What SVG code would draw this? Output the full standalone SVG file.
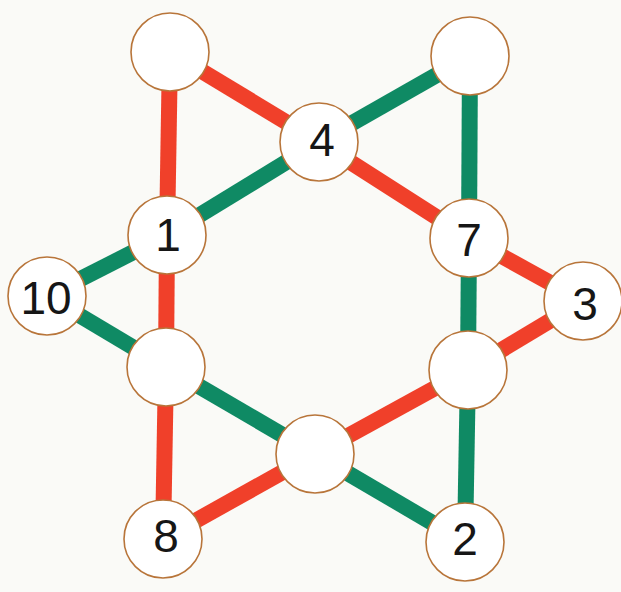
<svg xmlns="http://www.w3.org/2000/svg" width="621" height="592" viewBox="0 0 621 592">
<style>
.r{stroke:#F0402A;stroke-width:16;stroke-linecap:butt;fill:none}
.g{stroke:#0F8A64;stroke-width:16;stroke-linecap:butt;fill:none}
.n circle{fill:#FFFFFF;stroke:#B8753A;stroke-width:1.6}
.n text{font-family:"Liberation Sans",Arial,sans-serif;font-size:46px;fill:#161616;text-anchor:middle}
</style>
<rect x="0" y="0" width="621" height="592" fill="#FAFAF7"/>
<g id="connectors">
<line class="r" x1="170" y1="52" x2="319" y2="142"/>
<line class="r" x1="319" y1="142" x2="469" y2="238"/>
<line class="g" x1="470" y1="56" x2="319" y2="142"/>
<line class="g" x1="319" y1="142" x2="167" y2="235"/>
<line class="r" x1="170" y1="52" x2="167" y2="235"/>
<line class="r" x1="167" y1="235" x2="166" y2="367"/>
<line class="r" x1="166" y1="367" x2="163" y2="539"/>
<line class="g" x1="470" y1="56" x2="469" y2="238"/>
<line class="g" x1="469" y1="238" x2="468" y2="370"/>
<line class="g" x1="468" y1="370" x2="465" y2="542"/>
<line class="g" x1="167" y1="235" x2="47" y2="296"/>
<line class="g" x1="47" y1="296" x2="166" y2="367"/>
<line class="g" x1="166" y1="367" x2="315" y2="454"/>
<line class="g" x1="315" y1="454" x2="465" y2="542"/>
<line class="r" x1="469" y1="238" x2="583" y2="301"/>
<line class="r" x1="583" y1="301" x2="468" y2="370"/>
<line class="r" x1="468" y1="370" x2="315" y2="454"/>
<line class="r" x1="315" y1="454" x2="163" y2="539"/>
</g>
<g id="node-top-left" class="n"><circle cx="170" cy="52" r="39"/></g>
<g id="node-top-right" class="n"><circle cx="470" cy="56" r="39"/></g>
<g id="node-4" class="n"><circle cx="319" cy="142" r="39"/><text x="322" y="156">4</text></g>
<g id="node-1" class="n"><circle cx="167" cy="235" r="39"/><text x="168" y="251">1</text></g>
<g id="node-7" class="n"><circle cx="469" cy="238" r="39"/><text x="469" y="256">7</text></g>
<g id="node-10" class="n"><circle cx="47" cy="296" r="39"/><text x="46" y="314">10</text></g>
<g id="node-3" class="n"><circle cx="583" cy="301" r="39"/><text x="585" y="320">3</text></g>
<g id="node-mid-left" class="n"><circle cx="166" cy="367" r="39"/></g>
<g id="node-mid-right" class="n"><circle cx="468" cy="370" r="39"/></g>
<g id="node-bottom" class="n"><circle cx="315" cy="454" r="39"/></g>
<g id="node-8" class="n"><circle cx="163" cy="539" r="39"/><text x="166" y="552">8</text></g>
<g id="node-2" class="n"><circle cx="465" cy="542" r="39"/><text x="465" y="555">2</text></g>
</svg>
